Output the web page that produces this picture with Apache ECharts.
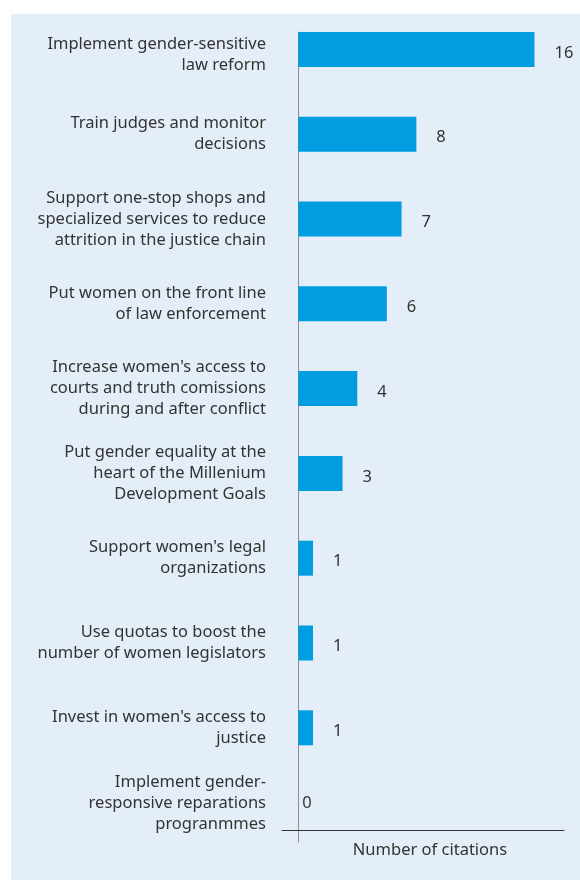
<!DOCTYPE html>
<html>
<head>
<meta charset="utf-8">
<script src="https://cdn.jsdelivr.net/npm/echarts@6/dist/echarts.min.js"></script>
<style>
html,body{margin:0;padding:0;background:#ffffff;}
#chart{width:580px;height:880px;}
</style>
</head>
<body>
<div id="chart"></div>
<script>
const categories = [
  "Implement gender-sensitive\nlaw reform",
  "Train judges and monitor\ndecisions",
  "Support one-stop shops and\nspecialized services to reduce\nattrition in the justice chain",
  "Put women on the front line\nof law enforcement",
  "Increase women's access to\ncourts and truth comissions\nduring and after conflict",
  "Put gender equality at the\nheart of the Millenium\nDevelopment Goals",
  "Support women's legal\norganizations",
  "Use quotas to boost the\nnumber of women legislators",
  "Invest in women's access to\njustice",
  "Implement gender-\nresponsive reparations\nprogranmmes"
];
const citations = [16, 8, 7, 6, 4, 3, 1, 1, 1, 0];
const axisName = "Number of citations";

const FONT = "Noto Sans";
const TXT = "#333333";
const FS = 16.5;

const lastIdx = categories.length - 1;

const chart = echarts.init(document.getElementById('chart'), null, {renderer: 'canvas'});
chart.setOption({
  backgroundColor: '#ffffff',
  animation: false,
  graphic: [{
    type: 'rect', silent: true, z: -10,
    shape: {x: 11, y: 14, width: 569, height: 866},
    style: {fill: '#e4eef8'}
  }],
  grid: [
    {left: 282, right: 16, top: 7, bottom: 25},
    {left: 282, right: 16, top: 32, bottom: 38}
  ],
  xAxis: [
    {
      type: 'value', gridIndex: 0, min: -1.1, max: 18,
      position: 'bottom', offset: -25,
      axisLine: {show: true, onZero: false, lineStyle: {color: '#333', width: 1}},
      axisTick: {show: false}, axisLabel: {show: false}, splitLine: {show: false},
      name: axisName, nameLocation: 'middle', nameGap: 12,
      nameTextStyle: {fontFamily: FONT, fontSize: FS, color: TXT, padding: [0, 0, 0, 14]}
    },
    {
      type: 'value', gridIndex: 1, min: -1.1, max: 18, show: false
    }
  ],
  yAxis: [
    {
      type: 'category', gridIndex: 0, inverse: true, data: categories,
      axisLine: {show: false, onZero: false}, axisTick: {show: false},
      axisLabel: {
        margin: 16, fontFamily: FONT, fontSize: FS, color: TXT, lineHeight: 21, align: 'right',
        formatter: function (value, idx) {
          if (idx === 0) return '{top| }\n' + value;
          if (idx === lastIdx) return value + '\n{bot| }';
          return value;
        },
        rich: {
          top: {lineHeight: 10, fontSize: 1},
          bot: {lineHeight: 18, fontSize: 1}
        }
      },
      splitLine: {show: false}
    },
    {
      type: 'value', gridIndex: 1,
      axisLine: {show: true, onZero: true, lineStyle: {color: '#8c8c8c', width: 1}},
      axisTick: {show: false}, axisLabel: {show: false}, splitLine: {show: false}
    }
  ],
  series: [{
    type: 'bar', xAxisIndex: 0, yAxisIndex: 0,
    data: citations.map(v => v === 0 ? {value: v, label: {distance: 4, offset: [0, -9]}} : v),
    barWidth: 35,
    itemStyle: {color: '#009ee0'},
    label: {show: true, position: 'right', distance: 20, offset: [0, 3.5], fontFamily: FONT, fontSize: FS, color: TXT},
    z: 3
  }]
});
</script>
</body>
</html>
